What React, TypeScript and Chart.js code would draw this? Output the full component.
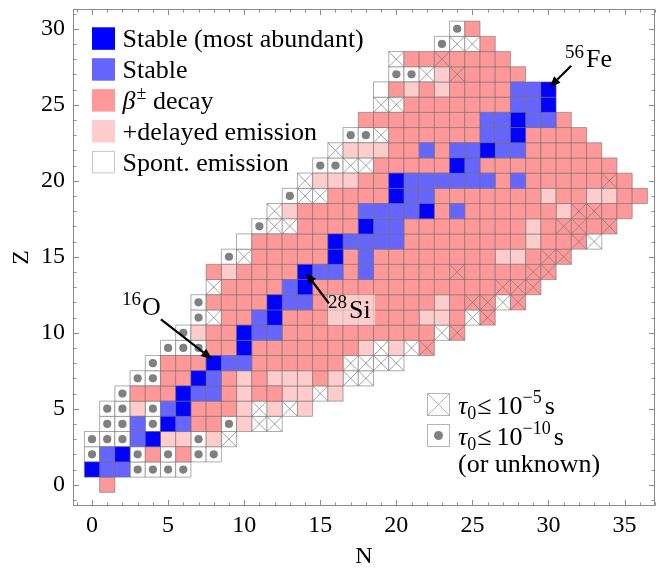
import React, { useEffect, useRef } from "react";
import { Chart, registerables } from "chart.js";

Chart.register(...registerables);

// ---------------- data ----------------
// proton number Z of each row
const protonNumbers = [0, 1, 2, 3, 4, 5, 6, 7, 8, 9, 10, 11, 12, 13, 14, 15, 16, 17, 18, 19, 20, 21, 22, 23, 24, 25, 26, 27, 28, 29, 30];
// neutron number N of the first cell in each row
const firstNeutronNumber = [1, 0, 0, 0, 1, 1, 2, 3, 4, 5, 6, 7, 7, 8, 8, 9, 10, 11, 12, 13, 14, 15, 16, 17, 18, 19, 19, 20, 20, 23, 24];
// run-length coded cells of each row (from N = firstNeutronNumber upward)
// D stable (most abundant), S stable, B beta decay, L +delayed emission, W spont. emission,
// O spont. emission & tau<=1e-10 s, X spont. emission & tau<=1e-5 s, Y beta decay & tau<=1e-5 s
const rowCellCodes = [
  "B",
  "D2S4O",
  "OSDOBOB2O",
  "3OSD2LOLX",
  "2OSODS2BOL2X",
  "2OLOSD3BLXLXL",
  "O3BD2SBL2B2LXL",
  "2O2BDSBLB3LBL2X",
  "O3BD2S6B4X",
  "3O2BD7BLXLXY",
  "OL2BD2S10BXY",
  "OX2BSD9B2LBXY",
  "O4BD2S8BLB2YXY",
  "X4BSD12B3Y",
  "BL4BD2SBS5BY4B2Y",
  "OX5BDBS8B2LB2Y",
  "W5BD4S8BL2BYX",
  "O2X4BD2S8BLB2YBY",
  "XL4B4SDBS6BL2Y2B",
  "O2X4BD2S7BL2B2L2B",
  "X3L2BD6SBS5BYB",
  "2O2X5BDS9B",
  "X3L2BSB2SD2S5B",
  "2OX6B2SD4B",
  "8B2SD2SB",
  "2X7B2SD",
  "WBLBL4B2SD",
  "2OXLY4B",
  "X2BY4B",
  "O2XB",
  "OB",
];
const xTickValues = [0, 5, 10, 15, 20, 25, 30, 35];
const yTickValues = [0, 5, 10, 15, 20, 25, 30];
const legendKinds = ["D", "S", "B", "L", "W"];
const legendLabels = ["Stable (most abundant)", "Stable", "β± decay", "+delayed emission", "Spont. emission"];

// ---------------- styles ----------------
const SERIF = '"Liberation Serif", "Times New Roman", serif';
const cellColors: Record<string, string> = {
  D: "#0000ff",
  S: "#6666ff",
  B: "#ff9999",
  L: "#ffcccc",
  W: "#ffffff",
};

type Pt = { x: number; y: number };
type Part = { t: string; size: number; dy?: number; italic?: boolean; gap?: number };

function expandRow(code: string): string[] {
  const out: string[] = [];
  const re = /(\d*)([A-Z])/g;
  let m: RegExpExecArray | null;
  while ((m = re.exec(code))) {
    const n = m[1] ? parseInt(m[1], 10) : 1;
    for (let i = 0; i < n; i++) out.push(m[2]);
  }
  return out;
}

function drawParts(ctx: CanvasRenderingContext2D, x: number, y: number, parts: Part[]) {
  let cx = x;
  for (const p of parts) {
    cx += p.gap || 0;
    ctx.font = `${p.italic ? "italic " : ""}${p.size}px ${SERIF}`;
    ctx.fillText(p.t, cx, y + (p.dy || 0));
    cx += ctx.measureText(p.t).width;
  }
}

function drawArrow(ctx: CanvasRenderingContext2D, x1: number, y1: number, x2: number, y2: number) {
  const ang = Math.atan2(y2 - y1, x2 - x1);
  const headLen = 11;
  const headW = 4.5;
  const bx = x2 - headLen * Math.cos(ang);
  const by = y2 - headLen * Math.sin(ang);
  ctx.strokeStyle = "#000";
  ctx.lineWidth = 2.2;
  ctx.beginPath();
  ctx.moveTo(x1, y1);
  ctx.lineTo(bx, by);
  ctx.stroke();
  ctx.fillStyle = "#000";
  ctx.beginPath();
  ctx.moveTo(x2, y2);
  ctx.lineTo(bx + headW * Math.sin(ang), by - headW * Math.cos(ang));
  ctx.lineTo(bx - headW * Math.sin(ang), by + headW * Math.cos(ang));
  ctx.closePath();
  ctx.fill();
}

const overlayPlugin = {
  id: "nuclideOverlay",
  afterDatasetsDraw(chart: any) {
    const { ctx, chartArea: ca } = chart;
    const xs = chart.scales.x;
    const ys = chart.scales.y;
    const px = (v: number) => xs.getPixelForValue(v);
    const py = (v: number) => ys.getPixelForValue(v);
    ctx.save();

    // translucent box behind the 28Si label
    ctx.fillStyle = "rgba(255,255,255,0.5)";
    ctx.fillRect(px(15.5), py(12.5), px(18.6) - px(15.5), py(10.5) - py(12.5));

    // arrows
    drawArrow(ctx, px(4.53), py(10.88), px(7.89), py(8.26));
    drawArrow(ctx, px(15.57), py(11.93), px(14.05), py(13.95));
    drawArrow(ctx, px(31.49), py(27.56), px(30.07), py(26.15));

    ctx.fillStyle = "#000";
    ctx.textAlign = "left";
    ctx.textBaseline = "alphabetic";
    drawParts(ctx, px(1.97), py(11.16), [
      { t: "16", size: 19, dy: -10 },
      { t: "O", size: 26, gap: 1 },
    ]);
    drawParts(ctx, px(15.51), py(10.96), [
      { t: "28", size: 19, dy: -10 },
      { t: "Si", size: 26, gap: 2 },
    ]);
    drawParts(ctx, px(31.09), py(27.46), [
      { t: "56", size: 19, dy: -9 },
      { t: "Fe", size: 26, gap: 2 },
    ]);

    // legend (top-left)
    const lx = ca.left + 19;
    const ly0 = ca.top + 18.3;
    const step = 30.9;
    const sw = 23;
    legendLabels.forEach((label, i) => {
      const top = ly0 + i * step;
      const kind = legendKinds[i];
      ctx.fillStyle = cellColors[kind];
      ctx.fillRect(lx, top, sw, sw - 0.5);
      if (kind === "W") {
        ctx.strokeStyle = "#c8c8c8";
        ctx.lineWidth = 1;
        ctx.strokeRect(lx + 0.5, top + 0.5, sw - 1, sw - 1.5);
      }
      ctx.fillStyle = "#000";
      if (label.startsWith("β")) {
        drawParts(ctx, lx + 30.6, top + 20, [
          { t: "β", size: 26, italic: true },
          { t: "±", size: 18, dy: -10, gap: 1 },
          { t: " decay", size: 26 },
        ]);
      } else {
        drawParts(ctx, lx + 30.6, top + 20, [{ t: label, size: 26 }]);
      }
    });

    // legend (bottom-right)
    const bx = ca.left + 354;
    const by1 = ca.top + 384;
    const by2 = ca.top + 415;
    ctx.fillStyle = "#fff";
    ctx.fillRect(bx, by1, sw, sw);
    ctx.fillRect(bx, by2, sw, sw);
    ctx.strokeStyle = "#b4b4b4";
    ctx.lineWidth = 1;
    ctx.strokeRect(bx + 0.5, by1 + 0.5, sw - 1, sw - 1);
    ctx.strokeRect(bx + 0.5, by2 + 0.5, sw - 1, sw - 1);
    ctx.beginPath();
    ctx.moveTo(bx + 0.5, by1 + 0.5);
    ctx.lineTo(bx + sw - 0.5, by1 + sw - 0.5);
    ctx.moveTo(bx + sw - 0.5, by1 + 0.5);
    ctx.lineTo(bx + 0.5, by1 + sw - 0.5);
    ctx.stroke();
    ctx.fillStyle = "#808080";
    ctx.beginPath();
    ctx.arc(bx + sw / 2, by2 + sw / 2, 4.5, 0, Math.PI * 2);
    ctx.fill();
    ctx.fillStyle = "#000";
    const tx = ca.left + 385;
    drawParts(ctx, tx, ca.top + 405, [
      { t: "τ", size: 26, italic: true },
      { t: "0", size: 18, dy: 5 },
      { t: "≤", size: 26, gap: 1 },
      { t: "10", size: 26, gap: 5 },
      { t: "−5", size: 18, dy: -11 },
      { t: "s", size: 26, gap: 3 },
    ]);
    drawParts(ctx, tx, ca.top + 436, [
      { t: "τ", size: 26, italic: true },
      { t: "0", size: 18, dy: 5 },
      { t: "≤", size: 26, gap: 1 },
      { t: "10", size: 26, gap: 5 },
      { t: "−10", size: 18, dy: -11 },
      { t: "s", size: 26, gap: 3 },
    ]);
    drawParts(ctx, tx, ca.top + 463, [{ t: "(or unknown)", size: 26 }]);

    // frame with inward ticks on all four sides
    ctx.strokeStyle = "#8c8c8c";
    ctx.lineWidth = 1;
    const L = Math.round(ca.left) + 0.5;
    const R = Math.round(ca.right) - 0.5;
    const T = Math.round(ca.top) + 0.5;
    const B = Math.round(ca.bottom) - 0.5;
    ctx.strokeRect(L, T, R - L, B - T);
    ctx.beginPath();
    for (let n = Math.ceil(xs.min); n <= Math.floor(xs.max); n++) {
      const len = n % 5 === 0 ? 5.5 : 3;
      const x = Math.round(px(n)) + 0.5;
      ctx.moveTo(x, B);
      ctx.lineTo(x, B - len);
      ctx.moveTo(x, T);
      ctx.lineTo(x, T + len);
    }
    for (let z = Math.ceil(ys.min); z <= Math.floor(ys.max); z++) {
      const len = z % 5 === 0 ? 5.5 : 3;
      const y = Math.round(py(z)) + 0.5;
      ctx.moveTo(L, y);
      ctx.lineTo(L + len, y);
      ctx.moveTo(R, y);
      ctx.lineTo(R - len, y);
    }
    ctx.stroke();
    ctx.restore();
  },
};

export default function App() {
  const ref = useRef<HTMLCanvasElement>(null);

  useEffect(() => {
    const canvas = ref.current;
    if (!canvas) return;

    const cells: Record<string, Pt[]> = { D: [], S: [], B: [], L: [], W: [] };
    const crosses: Pt[] = [];
    const dots: Pt[] = [];
    rowCellCodes.forEach((code, i) => {
      const z = protonNumbers[i];
      expandRow(code).forEach((c, j) => {
        const p = { x: firstNeutronNumber[i] + j, y: z };
        if (c === "Y") {
          cells.B.push(p);
          crosses.push(p);
        } else if (c === "X") {
          cells.W.push(p);
          crosses.push(p);
        } else if (c === "O") {
          cells.W.push(p);
          dots.push(p);
        } else {
          cells[c].push(p);
        }
      });
    });

    const cellSide = (c: any) => {
      const s = c.chart.scales.x;
      return Math.abs(s.getPixelForValue(1) - s.getPixelForValue(0));
    };
    const cellRadius = (c: any) => cellSide(c) / Math.SQRT2;

    const datasets: any[] = [
      ...legendKinds.map((k) => ({
        label: k,
        data: cells[k],
        pointStyle: "rect",
        pointRadius: cellRadius,
        pointBackgroundColor: cellColors[k],
        pointBorderColor: "rgba(105,105,105,0.55)",
        pointBorderWidth: 1,
        order: 3,
      })),
      {
        label: "cross",
        data: crosses,
        pointStyle: "crossRot",
        pointRadius: cellRadius,
        pointBorderColor: "rgba(120,120,120,0.7)",
        pointBorderWidth: 1,
        order: 2,
      },
      {
        label: "dot",
        data: dots,
        pointStyle: "circle",
        pointRadius: (c: any) => cellSide(c) * 0.27,
        pointBackgroundColor: "#808080",
        pointBorderWidth: 0,
        order: 1,
      },
    ];

    const tickFont = { family: SERIF, size: 24 };
    const chart = new Chart(canvas, {
      type: "scatter",
      data: { datasets },
      options: {
        animation: false,
        responsive: false,
        events: [],
        layout: { padding: { top: 9, right: 1, left: 0, bottom: 0 } },
        plugins: { legend: { display: false }, tooltip: { enabled: false } },
        scales: {
          x: {
            type: "linear",
            min: -1.25,
            max: 37,
            afterBuildTicks: (s: any) => {
              s.ticks = xTickValues.map((v) => ({ value: v }));
            },
            afterFit: (s: any) => {
              s.height = 63;
              s.paddingLeft = 0;
              s.paddingRight = 0;
              s.paddingTop = 0;
              s.paddingBottom = 0;
            },
            grid: { display: false, drawTicks: false },
            border: { display: false },
            ticks: { font: tickFont, color: "#000", padding: 5, maxRotation: 0, autoSkip: false },
            title: { display: true, text: "N", font: tickFont, color: "#000", padding: { top: 0, bottom: -2 } },
          },
          y: {
            type: "linear",
            min: -1.4,
            max: 31.3,
            afterBuildTicks: (s: any) => {
              s.ticks = yTickValues.map((v) => ({ value: v }));
            },
            afterFit: (s: any) => {
              s.width = 73;
              s.paddingLeft = 0;
              s.paddingRight = 0;
              s.paddingTop = 0;
              s.paddingBottom = 0;
            },
            grid: { display: false, drawTicks: false },
            border: { display: false },
            ticks: { font: tickFont, color: "#000", padding: 8, autoSkip: false },
            title: { display: true, text: "Z", font: tickFont, color: "#000", padding: { top: 7, bottom: 0 } },
          },
        },
      } as any,
      plugins: [overlayPlugin as any],
    });

    return () => chart.destroy();
  }, []);

  return (
    <div style={{ position: "absolute", left: 0, top: 0, width: 656, height: 569, background: "#fff" }}>
      <canvas ref={ref} width={656} height={569} style={{ width: 656, height: 569, display: "block" }} />
    </div>
  );
}
